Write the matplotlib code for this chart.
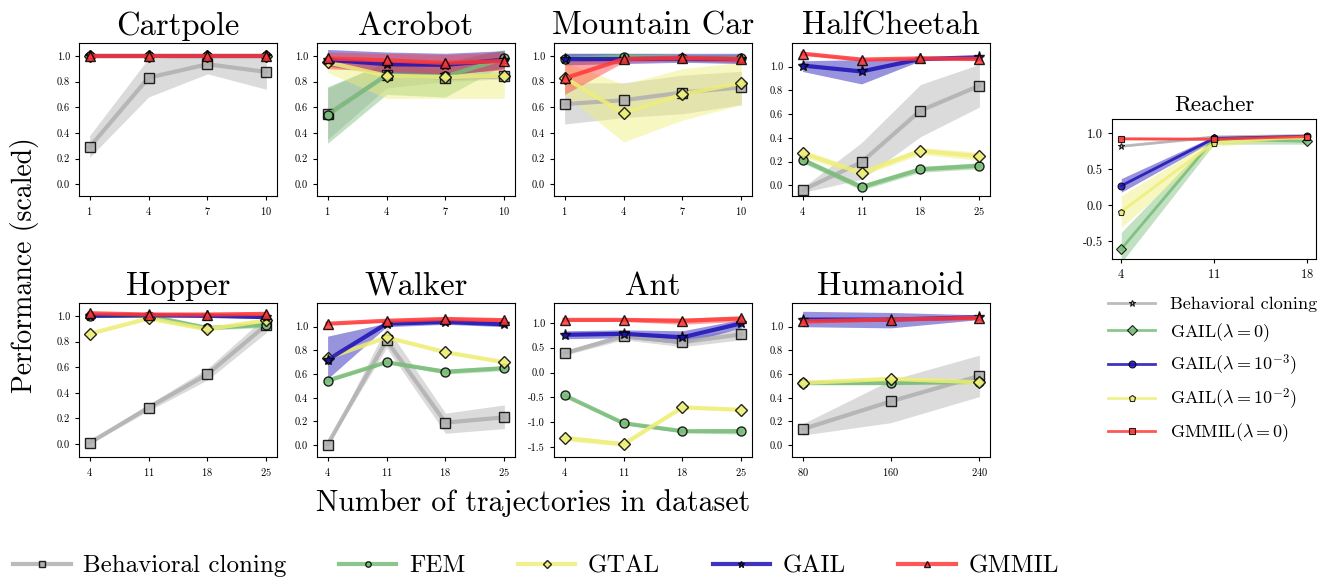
import numpy as np
import matplotlib.pyplot as plt

plt.rcParams['font.family'] = 'serif'
plt.rcParams['font.serif'] = ['cmr10']
plt.rcParams['mathtext.fontset'] = 'cm'
plt.rcParams['axes.formatter.use_mathtext'] = True
plt.rcParams['axes.unicode_minus'] = True

methods = ["Behavioral cloning", "FEM", "GTAL", "GAIL", "GMMIL"]
colors = ["#b0b0b0", "#78bc78", "#eeee78", "#1c10b4", "#ff3838"]
markers = ["s", "o", "D", "*", "^"]

x_small = [1, 4, 7, 10]
x_mujoco = [4, 11, 18, 25]
x_humanoid = [80, 160, 240]

# mean, lower, upper for each method: BC, FEM, GTAL, GAIL, GMMIL
cartpole_mean = [[0.29, 0.83, 0.935, 0.875], [1.0, 1.0, 1.0, 1.0], [1.0, 1.0, 1.0, 1.0],
                 [1.0, 1.0, 1.0, 1.0], [1.0, 1.0, 1.0, 1.0]]
cartpole_low = [[0.21, 0.68, 0.86, 0.74], [1.0, 1.0, 1.0, 1.0], [1.0, 1.0, 1.0, 1.0],
                [1.0, 1.0, 1.0, 1.0], [0.99, 0.99, 0.99, 0.99]]
cartpole_high = [[0.38, 0.98, 1.0, 1.0], [1.0, 1.0, 1.0, 1.0], [1.0, 1.0, 1.0, 1.0],
                 [1.0, 1.0, 1.0, 1.0], [1.01, 1.01, 1.01, 1.01]]

acrobot_mean = [[0.55, 0.85, 0.83, 0.84], [0.54, 0.85, 0.84, 0.98], [0.95, 0.845, 0.835, 0.845],
                [0.97, 0.935, 0.93, 0.97], [0.98, 0.965, 0.945, 0.96]]
acrobot_low = [[0.35, 0.75, 0.80, 0.82], [0.32, 0.70, 0.68, 0.93], [0.87, 0.67, 0.67, 0.67],
               [0.92, 0.86, 0.85, 0.90], [0.90, 0.88, 0.86, 0.89]]
acrobot_high = [[0.75, 0.95, 0.88, 0.88], [0.76, 0.95, 0.95, 1.05], [1.0, 0.95, 0.90, 1.0],
                [1.05, 1.03, 1.02, 1.04], [1.03, 1.02, 1.01, 1.03]]

mcar_mean = [[0.625, 0.655, 0.715, 0.755], [0.975, 0.995, 0.985, 0.98], [0.83, 0.555, 0.70, 0.79],
             [0.975, 0.975, 0.98, 0.975], [0.825, 0.975, 0.985, 0.975]]
mcar_low = [[0.47, 0.52, 0.55, 0.62], [0.95, 0.97, 0.96, 0.95], [0.70, 0.33, 0.50, 0.62],
            [0.93, 0.94, 0.95, 0.94], [0.70, 0.95, 0.96, 0.95]]
mcar_high = [[0.79, 0.79, 0.85, 0.88], [1.02, 1.02, 1.01, 1.01], [0.95, 0.78, 0.90, 0.95],
             [1.02, 1.02, 1.02, 1.02], [0.95, 1.0, 1.0, 1.0]]

cheetah_mean = [[-0.04, 0.195, 0.63, 0.84], [0.215, -0.015, 0.135, 0.165], [0.27, 0.105, 0.29, 0.245],
                [1.01, 0.96, 1.065, 1.08], [1.11, 1.06, 1.07, 1.065]]
cheetah_low = [[-0.06, 0.05, 0.41, 0.66], [0.19, -0.04, 0.11, 0.14], [0.24, 0.08, 0.26, 0.21],
               [0.96, 0.855, 1.05, 1.07], [1.10, 1.05, 1.06, 1.05]]
cheetah_high = [[-0.02, 0.36, 0.85, 1.02], [0.24, 0.01, 0.16, 0.19], [0.30, 0.13, 0.32, 0.28],
                [1.05, 1.06, 1.08, 1.09], [1.12, 1.07, 1.08, 1.08]]

hopper_mean = [[0.01, 0.285, 0.545, 0.93], [1.0, 1.0, 0.905, 0.93], [0.86, 0.98, 0.895, 0.965],
               [1.0, 1.005, 1.0, 0.99], [1.02, 1.01, 1.01, 1.015]]
hopper_low = [[0.0, 0.26, 0.50, 0.87], [0.99, 0.99, 0.89, 0.91], [0.85, 0.97, 0.88, 0.95],
              [0.99, 0.99, 0.99, 0.98], [1.01, 1.0, 1.0, 1.0]]
hopper_high = [[0.02, 0.31, 0.59, 1.0], [1.01, 1.01, 0.92, 0.95], [0.87, 0.99, 0.91, 0.98],
               [1.01, 1.02, 1.01, 1.0], [1.03, 1.02, 1.02, 1.03]]

walker_mean = [[0.005, 0.885, 0.19, 0.235], [0.545, 0.70, 0.62, 0.65], [0.735, 0.91, 0.785, 0.70],
               [0.72, 1.025, 1.04, 1.02], [1.025, 1.05, 1.065, 1.055]]
walker_low = [[0.0, 0.82, 0.10, 0.14], [0.53, 0.69, 0.60, 0.63], [0.72, 0.90, 0.77, 0.69],
              [0.56, 1.0, 1.02, 1.0], [1.02, 1.04, 1.05, 1.04]]
walker_high = [[0.01, 1.0, 0.27, 0.34], [0.56, 0.71, 0.64, 0.67], [0.75, 0.92, 0.80, 0.71],
               [0.92, 1.03, 1.06, 1.04], [1.03, 1.06, 1.08, 1.07]]

ant_mean = [[0.39, 0.73, 0.61, 0.77], [-0.46, -1.02, -1.18, -1.18], [-1.32, -1.44, -0.70, -0.75],
            [0.76, 0.78, 0.71, 0.99], [1.06, 1.06, 1.04, 1.09]]
ant_low = [[0.35, 0.66, 0.52, 0.66], [-0.48, -1.05, -1.21, -1.24], [-1.38, -1.48, -0.73, -0.78],
           [0.68, 0.70, 0.58, 0.90], [1.03, 1.03, 0.97, 1.03]]
ant_high = [[0.43, 0.80, 0.70, 0.88], [-0.44, -0.99, -1.15, -1.12], [-1.26, -1.40, -0.67, -0.72],
            [0.84, 0.86, 0.84, 1.07], [1.09, 1.09, 1.10, 1.13]]

humanoid_mean = [[0.135, 0.37, 0.585], [0.525, 0.525, 0.535], [0.525, 0.56, 0.53],
                 [1.06, 1.06, 1.08], [1.045, 1.06, 1.075]]
humanoid_low = [[0.085, 0.19, 0.41], [0.51, 0.51, 0.52], [0.51, 0.54, 0.51],
                [1.0, 0.99, 1.06], [1.03, 1.05, 1.06]]
humanoid_high = [[0.18, 0.55, 0.76], [0.54, 0.54, 0.55], [0.54, 0.58, 0.55],
                 [1.13, 1.12, 1.10], [1.06, 1.07, 1.09]]

envs = [
    ("Cartpole", x_small, cartpole_mean, cartpole_low, cartpole_high, (-0.09, 1.1), [0, 0.2, 0.4, 0.6, 0.8, 1.0]),
    ("Acrobot", x_small, acrobot_mean, acrobot_low, acrobot_high, (-0.09, 1.1), [0, 0.2, 0.4, 0.6, 0.8, 1.0]),
    ("Mountain Car", x_small, mcar_mean, mcar_low, mcar_high, (-0.09, 1.1), [0, 0.2, 0.4, 0.6, 0.8, 1.0]),
    ("HalfCheetah", x_mujoco, cheetah_mean, cheetah_low, cheetah_high, (-0.09, 1.2), [0, 0.2, 0.4, 0.6, 0.8, 1.0]),
    ("Hopper", x_mujoco, hopper_mean, hopper_low, hopper_high, (-0.1, 1.1), [0, 0.2, 0.4, 0.6, 0.8, 1.0]),
    ("Walker", x_mujoco, walker_mean, walker_low, walker_high, (-0.1, 1.2), [0, 0.2, 0.4, 0.6, 0.8, 1.0]),
    ("Ant", x_mujoco, ant_mean, ant_low, ant_high, (-1.7, 1.4), [-1.5, -1.0, -0.5, 0.0, 0.5, 1.0]),
    ("Humanoid", x_humanoid, humanoid_mean, humanoid_low, humanoid_high, (-0.1, 1.2), [0, 0.2, 0.4, 0.6, 0.8, 1.0]),
]

# Reacher
reacher_x = [4, 11, 18]
reacher_labels = ["Behavioral cloning", r"GAIL($\lambda = 0$)", r"GAIL($\lambda = 10^{-3}$)",
                  r"GAIL($\lambda = 10^{-2}$)", r"GMMIL($\lambda = 0$)"]
reacher_colors = ["#b0b0b0", "#78bc78", "#1c10b4", "#eeee78", "#ff3838"]
reacher_markers = ["*", "D", "o", "p", "s"]
reacher_mean = [[0.82, 0.95, 0.97], [-0.61, 0.92, 0.89], [0.27, 0.93, 0.96],
                [-0.09, 0.87, 0.95], [0.925, 0.92, 0.955]]
reacher_low = [[0.81, 0.93, 0.96], [-0.80, 0.85, 0.85], [0.18, 0.90, 0.94],
               [-0.31, 0.82, 0.92], [0.91, 0.90, 0.94]]
reacher_high = [[0.83, 0.97, 0.99], [-0.38, 0.96, 0.94], [0.37, 0.96, 0.98],
                [0.13, 0.92, 0.98], [0.94, 0.94, 0.97]]

fig = plt.figure(figsize=(13.35, 5.83), dpi=100)
W, H = 1335.0, 583.0
lefts = [79, 317, 554, 792]
rows = [(43, 196), (303, 457)]

handles = []
for k, (name, xs, mean, low, high, ylim, yt) in enumerate(envs):
    top, bot = rows[k // 4]
    ax = fig.add_axes([lefts[k % 4] / W, 1 - bot / H, 198 / W, (bot - top) / H])
    for i in range(5):
        ax.fill_between(xs, low[i], high[i], color=colors[i], alpha=0.45, lw=0)
        ln, = ax.plot(xs, mean[i], color=colors[i], lw=3, alpha=0.85, marker=markers[i],
                      markersize=8 if markers[i] == "*" else 6.5, markerfacecolor=colors[i],
                      markeredgecolor="black", markeredgewidth=1.0, label=methods[i])
        if k == 0:
            handles.append(ln)
    ax.set_title(name, fontsize=23.5)
    ax.set_ylim(ylim)
    ax.set_yticks(yt)
    ax.set_xticks(xs)
    ax.set_xlim(xs[0] - (xs[-1] - xs[0]) * 0.06, xs[-1] + (xs[-1] - xs[0]) * 0.06)
    ax.tick_params(labelsize=7.5, length=3)
    ax.yaxis.set_major_formatter(plt.FormatStrFormatter('%.1f'))

axr = fig.add_axes([1112 / W, 1 - 259 / H, 204 / W, 140 / H])
for i in range(5):
    axr.fill_between(reacher_x, reacher_low[i], reacher_high[i], color=reacher_colors[i], alpha=0.45, lw=0)
    axr.plot(reacher_x, reacher_mean[i], color=reacher_colors[i], lw=2, alpha=0.85,
             marker=reacher_markers[i], markersize=5, markerfacecolor=reacher_colors[i],
             markeredgecolor="black", markeredgewidth=0.8, label=reacher_labels[i])
axr.set_title("Reacher", fontsize=16.5)
axr.set_ylim(-0.75, 1.2)
axr.set_yticks([-0.5, 0.0, 0.5, 1.0])
axr.set_xticks(reacher_x)
axr.set_xlim(3.3, 18.7)
axr.tick_params(labelsize=9, length=3)
axr.yaxis.set_major_formatter(plt.FormatStrFormatter('%.1f'))
fig.legend(*axr.get_legend_handles_labels(), loc="upper left", bbox_to_anchor=(1092 / W, 1 - 280 / H),
           frameon=False, fontsize=13, handlelength=2.6, labelspacing=0.5)

fig.text(25 / W, 1 - 265 / H, "Performance (scaled)", rotation=90, fontsize=20, ha="center", va="center")
fig.text(533 / W, 1 - 503 / H, "Number of trajectories in dataset", fontsize=21.5, ha="center", va="center")

fig.legend(handles, methods, loc="center", bbox_to_anchor=(536 / W, 1 - 566 / H), ncol=5, frameon=False,
           fontsize=18, markerscale=0.6, handlelength=2.3, columnspacing=2.1, handletextpad=0.5)

fig.savefig("out.png", dpi=100)
